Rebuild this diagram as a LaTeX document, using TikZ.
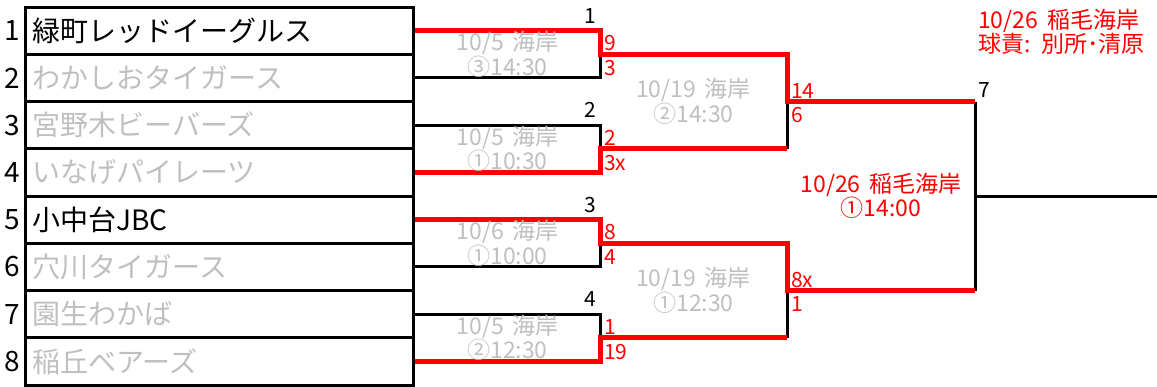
\documentclass[tikz,border=0pt]{standalone}
\usepackage{fontspec}
\setmainfont{Noto Sans CJK JP}[WordSpace=1.7]
\usetikzlibrary{calc}
\definecolor{gris}{RGB}{191,191,191}

\begin{document}
\begin{tikzpicture}[x=1pt,y=-1pt,
    trait/.style={line width=3pt},
    gagnant/.style={line width=5pt,red},
    equipe/.style={draw,line width=3pt,anchor=west,minimum width=388pt,minimum height=47.25pt,
      text width=374pt,inner xsep=7pt,align=left,font=\fontsize{28}{28}\selectfont},
    rang/.style={anchor=east,inner sep=0pt,font=\fontsize{28}{28}\selectfont},
    info/.style={text=gris,align=center,font=\fontsize{23}{23.5}\selectfont},
    score/.style={text=red,inner xsep=4pt,font=\fontsize{21}{21}\selectfont},
    haut/.style={anchor=south west,inner ysep=3pt},
    bas/.style={anchor=north west,inner ysep=6pt},
    numero/.style={inner xsep=4pt,inner ysep=7pt,font=\fontsize{21}{21}\selectfont}]

  \useasboundingbox (0,0) rectangle (1157,386);

  % EQUIPES
  \node[equipe] (e1) at (24,30.625) {緑町レッドイーグルス};
  \node[equipe,text=gris] (e2) at (24,77.875) {わかしおタイガース};
  \node[equipe,text=gris] (e3) at (24,125.125) {宮野木ビーバーズ};
  \node[equipe,text=gris] (e4) at (24,172.375) {いなげパイレーツ};
  \node[equipe] (e5) at (24,219.625) {小中台JBC};
  \node[equipe,text=gris] (e6) at (24,266.875) {穴川タイガース};
  \node[equipe,text=gris] (e7) at (24,314.125) {園生わかば};
  \node[equipe,text=gris] (e8) at (24,361.375) {稲丘ベアーズ};

  \node[rang] (r1) at ([xshift=-4pt]e1.west) {1};
  \node[rang] (r2) at ([xshift=-4pt]e2.west) {2};
  \node[rang] (r3) at ([xshift=-4pt]e3.west) {3};
  \node[rang] (r4) at ([xshift=-4pt]e4.west) {4};
  \node[rang] (r5) at ([xshift=-4pt]e5.west) {5};
  \node[rang] (r6) at ([xshift=-4pt]e6.west) {6};
  \node[rang] (r7) at ([xshift=-4pt]e7.west) {7};
  \node[rang] (r8) at ([xshift=-4pt]e8.west) {8};

  % POINTS DU TABLEAU
  \coordinate (A1) at (600,30.625);
  \coordinate (B1) at (600,77.875);
  \coordinate (M1) at (600,54.25);
  \coordinate (A2) at (600,125.125);
  \coordinate (B2) at (600,172.375);
  \coordinate (M2) at (600,148.75);
  \coordinate (A3) at (600,219.625);
  \coordinate (B3) at (600,266.875);
  \coordinate (M3) at (600,243.25);
  \coordinate (A4) at (600,314.125);
  \coordinate (B4) at (600,361.375);
  \coordinate (M4) at (600,337.75);

  \coordinate (C1) at (787,54.25);
  \coordinate (D1) at (787,148.75);
  \coordinate (N1) at (787,101.5);
  \coordinate (C2) at (787,243.25);
  \coordinate (D2) at (787,337.75);
  \coordinate (N2) at (787,290.5);

  \coordinate (F1) at (975,101.5);
  \coordinate (F2) at (975,290.5);
  \coordinate (F) at (975,196);
  \coordinate (Z) at (1157,196);

  % TRAITS NOIRS
  \draw[trait] (e2.east) -- (B1) -- (M1);
  \draw[trait] (e3.east) -- (A2) -- (M2);
  \draw[trait] (e6.east) -- (B3) -- (M3);
  \draw[trait] (e7.east) -- (A4) -- (M4);
  \draw[trait] (N1) -- (D1);
  \draw[trait] (N2) -- (D2);
  \draw[trait] (F1) -- (F2);
  \draw[trait] (F) -- (Z);

  % TRAITS GAGNANTS
  \draw[gagnant] (e1.east) -- (A1) -- (M1) -- (C1) -- (N1) -- (F1);
  \draw[gagnant] (e4.east) -- (B2) -- (M2) -- (D1);
  \draw[gagnant] (e5.east) -- (A3) -- (M3) -- (C2) -- (N2) -- (F2);
  \draw[gagnant] (e8.east) -- (B4) -- (M4) -- (D2);

  % DATES ET LIEUX
  \node[info] (i1) at ($(M1)!0.5!(M1 -| e1.east)$) {10/5 海岸\\③14:30};
  \node[info] (i2) at ($(M2)!0.5!(M2 -| e1.east)$) {10/5 海岸\\①10:30};
  \node[info] (i3) at ($(M3)!0.5!(M3 -| e1.east)$) {10/6 海岸\\①10:00};
  \node[info] (i4) at ($(M4)!0.5!(M4 -| e1.east)$) {10/5 海岸\\②12:30};
  \node[info] (i5) at ($(N1)!0.5!(N1 -| M1)$) {10/19 海岸\\②14:30};
  \node[info] (i6) at ($(N2)!0.5!(N2 -| M1)$) {10/19 海岸\\①12:30};
  \node[info,text=red] (i7) at ($(F)!0.5!(F -| N1)$) {10/26 稲毛海岸\\①14:00};

  % SCORES
  \node[score,haut] (s1) at (M1) {9};
  \node[score,bas] (s2) at (M1) {3};
  \node[score,haut] (s3) at (M2) {2};
  \node[score,bas] (s4) at (M2) {3x};
  \node[score,haut] (s5) at (M3) {8};
  \node[score,bas] (s6) at (M3) {4};
  \node[score,haut] (s7) at (M4) {1};
  \node[score,bas] (s8) at (M4) {19};
  \node[score,haut] (s9) at (N1) {14};
  \node[score,bas] (s10) at (N1) {6};
  \node[score,haut] (s11) at (N2) {8x};
  \node[score,bas] (s12) at (N2) {1};

  % NUMEROS DES MATCHS
  \node[numero,anchor=south east] (k1) at (A1) {1};
  \node[numero,anchor=south east] (k2) at (A2) {2};
  \node[numero,anchor=south east] (k3) at (A3) {3};
  \node[numero,anchor=south east] (k4) at (A4) {4};
  \node[numero,anchor=south west,inner xsep=3pt,inner ysep=4pt] (k7) at (F1) {7};

  \node[text=red,anchor=north west,align=left,inner sep=0pt,font=\fontsize{23}{23.5}\selectfont]
    (titre) at (978,9) {10/26 稲毛海岸\\球責: 別所･清原};
\end{tikzpicture}
\end{document}
